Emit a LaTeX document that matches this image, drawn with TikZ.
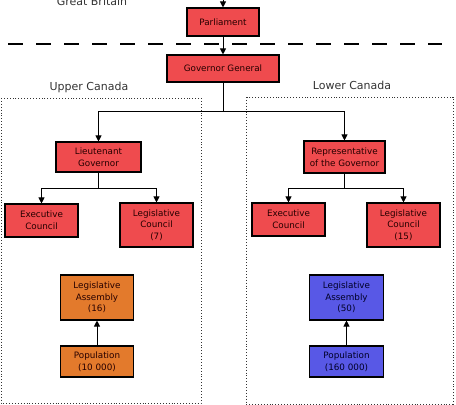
\documentclass[tikz,border=0pt]{standalone}
\usepackage{fontspec}
\setmainfont{DejaVu Sans}
\usetikzlibrary{arrows.meta}
\definecolor{boxred}{HTML}{EF4B4E}
\definecolor{boxorange}{HTML}{E37A2C}
\definecolor{boxblue}{HTML}{5858E6}
\begin{document}
\begin{tikzpicture}[x=1pt,y=-1pt,
  box/.style={draw=black, line width=1.1pt, fill=boxred, inner sep=1pt, align=center,
    font=\fontsize{8.8}{11.7}\selectfont, text=black!85!red},
  obox/.style={box, fill=boxorange},
  bbox/.style={box, fill=boxblue, text=black!85!blue},
  region/.style={draw=black!80, dotted, line width=0.9pt},
  arr/.style={draw=black, line width=1pt, -{Triangle[length=6pt,width=6pt]}},
  conn/.style={draw=black, line width=1pt},
  lbl/.style={font=\fontsize{11}{13}\selectfont, text=black!80}]
\useasboundingbox (0,0) rectangle (456,405);
% regions
\draw[region] (1,98) rectangle (201,403);
\draw[region] (246,97) rectangle (453,404);
% labels
\node[lbl, anchor=base] (gb) at (92,5.5) {Great Britain};
\node[lbl, anchor=base] (uc) at (89,90) {Upper Canada};
\node[lbl, anchor=base] (lcn) at (352,89) {Lower Canada};
% dashed border
\coordinate (d1) at (8,44);
\coordinate (d2) at (442,44);
\draw[line width=1.2pt, dash pattern=on 15pt off 13pt] (d1) -- (d2);
% nodes
\node[box, minimum width=72pt, minimum height=28pt] (parl) at (223,22) {Parliament};
\node[box, minimum width=112pt, minimum height=27pt] (gg) at (223,68.5) {Governor General};
\node[box, minimum width=85pt, minimum height=30pt] (lg) at (98.5,157) {Lieutenant\\Governor};
\node[box, minimum width=81pt, minimum height=32pt] (rep) at (344.5,157) {Representative\\of the Governor};
\node[box, minimum width=73pt, minimum height=33pt] (ec1) at (41.5,220.5) {Executive\\Council};
\node[box, minimum width=73pt, minimum height=44pt] (lc1) at (156.5,225) {Legislative\\Council\\(7)};
\node[box, minimum width=73pt, minimum height=33pt] (ec2) at (288.5,219.5) {Executive\\Council};
\node[box, minimum width=73pt, minimum height=44pt] (lc2) at (403.5,225) {Legislative\\Council\\(15)};
\node[obox, minimum width=73pt, minimum height=45pt] (la1) at (97,297.5) {Legislative\\Assembly\\(16)};
\node[obox, minimum width=73pt, minimum height=31pt] (pop1) at (97,361.5) {Population\\(10 000)};
\node[bbox, minimum width=74pt, minimum height=45pt] (la2) at (346.5,297.5) {Legislative\\Assembly\\(50)};
\node[bbox, minimum width=74pt, minimum height=31pt] (pop2) at (346.5,361.5) {Population\\(160 000)};
% connectors
\coordinate (top) at (223,0);
\draw[arr] (top) -- (parl.north);
\draw[arr] (parl.south) -- (gg.north);
\coordinate (j1) at (223,111);
\draw[conn] (gg.south) -- (j1);
\draw[arr] (j1) -| (lg.north);
\draw[arr] (j1) -| (rep.north);
\coordinate (j2) at (98.5,188);
\draw[conn] (lg.south) -- (j2);
\draw[arr] (j2) -| (ec1.north);
\draw[arr] (j2) -| (lc1.north);
\coordinate (j3) at (344.5,188);
\draw[conn] (rep.south) -- (j3);
\draw[arr] (j3) -| (ec2.north);
\draw[arr] (j3) -| (lc2.north);
\draw[arr] (pop1.north) -- (la1.south);
\draw[arr] (pop2.north) -- (la2.south);
\end{tikzpicture}
\end{document}
